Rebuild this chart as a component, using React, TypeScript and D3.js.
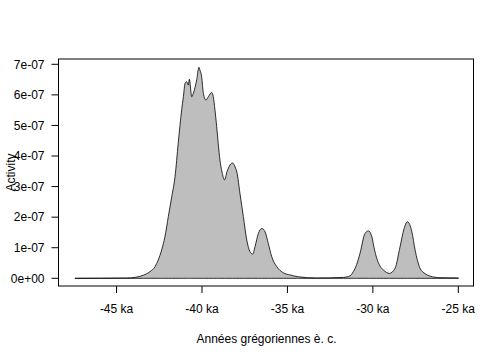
import React from "react";
import * as d3 from "d3";

// Calendar age in ka (negative = BCE), activity in units of 1e-7
const ages: number[] = [
  -47.44, -45.98, -44.41, -43.92, -43.44, -43.04, -42.75, -42.56, -42.36, -42.17,
  -41.97, -41.77, -41.58, -41.39, -41.19, -41.09, -40.99, -40.9, -40.8, -40.74,
  -40.6, -40.51, -40.31, -40.18, -40.12, -40.02, -39.92, -39.77, -39.63, -39.43,
  -39.34, -39.24, -39.14, -39.05, -38.95, -38.83, -38.68, -38.54, -38.36, -38.21,
  -38.06, -37.95, -37.78, -37.58, -37.38, -37.19, -37.03, -36.9, -36.7, -36.5,
  -36.31, -36.12, -35.92, -35.62, -35.24, -34.85, -34.36, -33.29, -31.73, -31.34,
  -31.14, -30.95, -30.75, -30.46, -30.26, -30.06, -29.93, -29.77, -29.58, -29.38,
  -29.03, -28.7, -28.41, -28.17, -27.98, -27.72, -27.53, -27.24, -26.94, -26.65,
  -26.07, -24.99,
];
const activity: number[] = [
  0.0, 0.003, 0.01, 0.03, 0.1, 0.22, 0.38, 0.6, 0.93, 1.36,
  2.02, 2.67, 3.32, 4.43, 5.51, 5.94, 6.38, 6.43, 6.32, 6.51,
  5.94, 6.05, 6.49, 6.9, 6.81, 6.59, 6.05, 5.83, 5.94, 6.08,
  5.94, 5.5, 4.96, 4.41, 3.87, 3.48, 3.22, 3.48, 3.71, 3.77,
  3.64, 3.45, 2.78, 2.02, 1.25, 0.87, 0.79, 1.03, 1.47, 1.63,
  1.52, 1.14, 0.71, 0.38, 0.18, 0.11, 0.05, 0.01, 0.03, 0.08,
  0.22, 0.45, 0.82, 1.47, 1.55, 1.36, 1.0, 0.65, 0.4, 0.27,
  0.16, 0.33, 1.03, 1.63, 1.85, 1.53, 0.93, 0.33, 0.15, 0.07,
  0.02, 0.01,
];
const xTicks: number[] = [-45, -40, -35, -30, -25];
const yTicks: number[] = [0, 1, 2, 3, 4, 5, 6, 7];
const yTickLabels: string[] = ["0e+00", "1e-07", "2e-07", "3e-07", "4e-07", "5e-07", "6e-07", "7e-07"];
const xLabel = "Années grégoriennes è. c.";
const yLabel = "Activity";

export default function App() {
  const W = 504, H = 360;
  const box = { left: 58.5, right: 473.5, top: 59, bottom: 286 };
  const x = d3.scaleLinear().domain([-40, -25]).range([202, 458.3]);
  const y = d3.scaleLinear().domain([0, 7]).range([278.3, 64.3]);
  const pts = ages.map((a, i) => [a, activity[i]] as [number, number]);
  const area = d3
    .area<[number, number]>()
    .x((d) => x(d[0]))
    .y0(y(0))
    .y1((d) => y(d[1]))
    .curve(d3.curveMonotoneX);
  const font = "'Liberation Sans', Arial, sans-serif";
  return (
    <svg width={W} height={H} style={{ position: "absolute", left: 0, top: 0, background: "#fff" }} fontFamily={font}>
      <path d={area(pts) + "Z"} fill="#bebebe" stroke="#000" strokeWidth={0.8} strokeLinejoin="round" />
      <rect x={box.left} y={box.top} width={box.right - box.left} height={box.bottom - box.top} fill="none" stroke="#000" strokeWidth={1} />
      {xTicks.map((t) => (
        <g key={"x" + t}>
          <line x1={x(t)} x2={x(t)} y1={box.bottom} y2={box.bottom + 7} stroke="#000" />
          <text x={x(t)} y={312.5} fontSize={12} textAnchor="middle" fill="#000">
            {t + " ka"}
          </text>
        </g>
      ))}
      {yTicks.map((t, i) => (
        <g key={"y" + t}>
          <line x1={box.left - 7} x2={box.left} y1={y(t)} y2={y(t)} stroke="#000" />
          <text x={44.5} y={y(t) + 4.3} fontSize={12} textAnchor="end" fill="#000">
            {yTickLabels[i]}
          </text>
        </g>
      ))}
      <text x={266.5} y={342.5} fontSize={12} textAnchor="middle" fill="#000">
        {xLabel}
      </text>
      <text x={0} y={0} fontSize={12} textAnchor="middle" fill="#000" transform={`translate(15,172.5) rotate(-90)`}>
        {yLabel}
      </text>
    </svg>
  );
}
